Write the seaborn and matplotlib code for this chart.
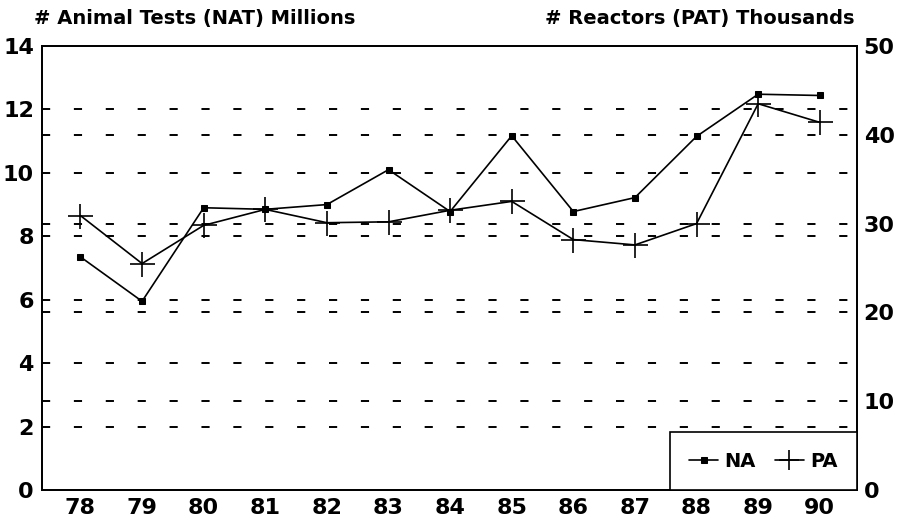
import pandas as pd
import matplotlib
matplotlib.use("Agg")
import matplotlib.pyplot as plt
import seaborn as sns

# values
years = [78, 79, 80, 81, 82, 83, 84, 85, 86, 87, 88, 89, 90]
na_millions = [7.35, 5.95, 8.9, 8.85, 9.0, 10.1, 8.78, 11.17, 8.78, 9.22, 11.15, 12.48, 12.44]
pa_thousands = [30.9, 25.5, 29.8, 31.6, 30.1, 30.2, 31.5, 32.5, 28.2, 27.6, 30.0, 43.5, 41.4]
left_ticks = [0, 2, 4, 6, 8, 10, 12, 14]
right_ticks = [0, 10, 20, 30, 40, 50]

df = pd.DataFrame({"year": years, "NA": na_millions, "PA": pa_thousands})

sns.set_style("white")
plt.rcParams["font.family"] = ["DejaVu Sans"]
plt.rcParams["font.weight"] = "bold"
plt.rcParams["text.color"] = "black"
plt.rcParams["xtick.color"] = "black"
plt.rcParams["ytick.color"] = "black"

fig, ax = plt.subplots(figsize=(8.99, 5.32), dpi=100)
fig.subplots_adjust(left=0.047, right=0.953, bottom=0.079, top=0.9135)
ax2 = ax.twinx()

grid_style = dict(color="black", linestyle=(0, (4.2, 12.2)), linewidth=1.4, zorder=0)
for t in left_ticks[1:-1]:
    ax.axhline(t, **grid_style)
for t in right_ticks[1:-1]:
    ax2.axhline(t, **grid_style)

sns.lineplot(data=df, x="year", y="NA", ax=ax, color="black", linewidth=1.2,
             marker="s", markersize=5, markeredgecolor="black", label="NA", legend=False)
sns.lineplot(data=df, x="year", y="PA", ax=ax2, color="black", linewidth=1.2,
             marker="+", markersize=18, markeredgewidth=1.2, markeredgecolor="black",
             label="PA", legend=False)

ax.set_xlim(77.38, 90.6)
ax.set_ylim(0, 14)
ax2.set_ylim(0, 50)
ax.set_xticks(years)
ax.set_yticks(left_ticks)
ax2.set_yticks(right_ticks)
ax.set_xticklabels([str(y) for y in years], fontsize=16, fontweight="bold")
ax.set_yticklabels([str(t) for t in left_ticks], fontsize=16, fontweight="bold")
ax2.set_yticklabels([str(t) for t in right_ticks], fontsize=16, fontweight="bold")
ax.tick_params(axis="both", length=0, pad=6, colors="black")
ax2.tick_params(axis="y", length=0, pad=5, colors="black")
ax.set_xlabel("")
ax.set_ylabel("")
ax2.set_ylabel("")

for a in (ax, ax2):
    for s in a.spines.values():
        s.set_color("black")
        s.set_linewidth(1.3)

fig.text(0.038, 0.965, "# Animal Tests (NAT) Millions", fontsize=14, fontweight="bold",
         color="black", ha="left", va="center")
fig.text(0.95, 0.965, "# Reactors (PAT) Thousands", fontsize=14, fontweight="bold",
         color="black", ha="right", va="center")

h1, l1 = ax.get_legend_handles_labels()
h2, l2 = ax2.get_legend_handles_labels()
leg = ax2.legend(h1 + h2, l1 + l2, loc="lower right", bbox_to_anchor=(1, 0), borderaxespad=0,
                 ncol=2, frameon=True, fancybox=False, handlelength=1.5, markerscale=0.8,
                 handletextpad=0.3, columnspacing=1.0, borderpad=1.0,
                 prop={"weight": "bold", "size": 14})
leg.get_frame().set_edgecolor("black")
leg.get_frame().set_linewidth(1.2)
leg.get_frame().set_alpha(1)

fig.savefig("out.png", dpi=100)
